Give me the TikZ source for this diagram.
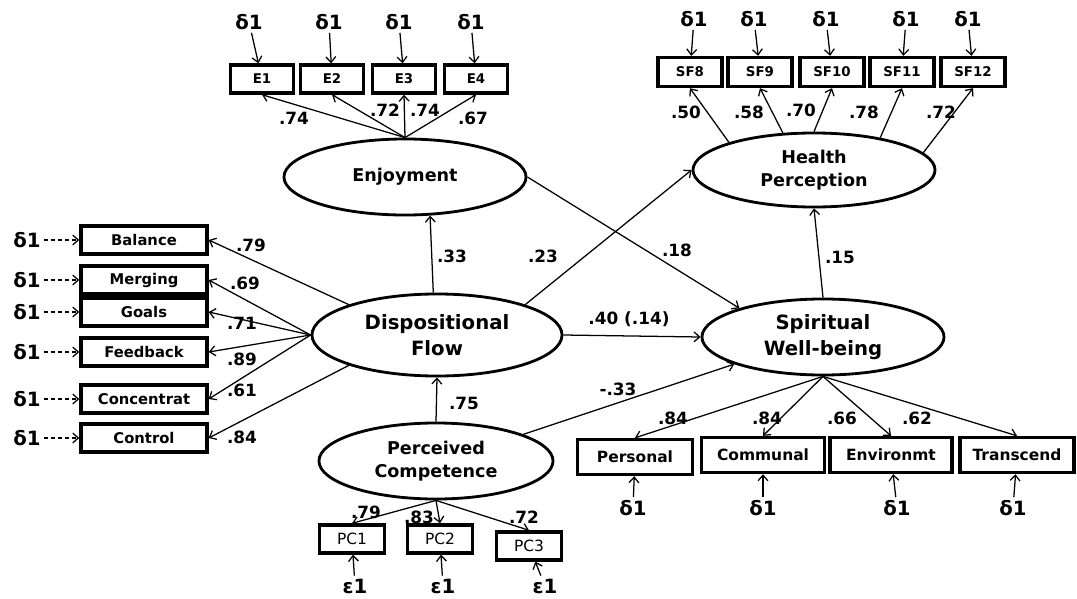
\documentclass[tikz,border=0pt]{standalone}
\usepackage{fontspec}
\setmainfont{DejaVu Sans}
\usetikzlibrary{arrows.meta, shapes.geometric}

\tikzset{
  latent/.style={ellipse, draw, line width=2pt, inner sep=0pt, align=center,
    font=\fontsize{12.5}{16}\selectfont\bfseries},
  bigtext/.style={font=\fontsize{14}{18}\selectfont\bfseries},
  indbox/.style={rectangle, draw, line width=2.4pt, inner sep=0pt,
    font=\fontsize{10.5}{12}\selectfont\bfseries},
  smallbox/.style={font=\fontsize{9.5}{11}\selectfont\bfseries},
  errlbl/.style={inner sep=2pt, font=\fontsize{14}{16}\selectfont\bfseries},
  coef/.style={inner sep=0pt, font=\fontsize{12}{14}\selectfont\bfseries},
  link/.style={-{Straight Barb[length=4pt, width=7pt]}, line width=0.9pt},
}

\begin{document}
\begin{tikzpicture}[x=0.025cm, y=-0.025cm]
  \useasboundingbox (0,0) rectangle (1077,598);

  % Latent factors
  \node[latent, minimum width=6.05cm, minimum height=1.9cm] (enj) at (405,177) {Enjoyment};
  \node[latent, minimum width=6.05cm, minimum height=1.85cm] (hp) at (814,170) {Health\\Perception};
  \node[latent, bigtext, minimum width=6.25cm, minimum height=2.05cm] (df) at (437,335) {Dispositional\\Flow};
  \node[latent, bigtext, minimum width=6.05cm, minimum height=1.9cm] (sw) at (823,337) {Spiritual\\Well-being};
  \node[latent, minimum width=5.85cm, minimum height=1.9cm] (pc) at (436,461) {Perceived\\Competence};

  % Enjoyment indicators
  \foreach \i/\xb/\xd/\cv/\xc/\yc in {
    1/262/249/.74/294/118,
    2/332/329/.72/385/110,
    3/404/399/.74/425/110,
    4/476/471/.67/473/118
  }{
    \node[indbox, smallbox, minimum width=1.575cm, minimum height=0.7cm] (e\i) at (\xb,79) {E\i};
    \node[errlbl] (de\i) at (\xd,22) {δ1};
    \draw[link] (de\i) -- (e\i);
    \draw[link] (enj.north) -- (e\i.south);
    \node[coef] (ce\i) at (\xc,\yc) {\cv};
  }

  % Health perception indicators
  \foreach \i/\xb/\xd/\ang/\cv/\xc/\yc in {
    8/690/694/162/.50/686/112,
    9/760/754/130/.58/749/112,
    10/832/826/90/.70/801/110,
    11/902/906/26/.78/864/112,
    12/973/968/9/.72/941/112
  }{
    \node[indbox, smallbox, minimum width=1.6cm, minimum height=0.725cm] (sf\i) at (\xb,72) {SF\i};
    \node[errlbl] (dsf\i) at (\xd,19) {δ1};
    \draw[link] (dsf\i) -- (sf\i);
    \draw[link] (hp.\ang) -- (sf\i.south);
    \node[coef] (csf\i) at (\xc,\yc) {\cv};
  }

  % Dispositional flow indicators
  \foreach \i/\lbl/\yb/\ang/\cv/\xc/\yc in {
    1/Balance/240/161/.79/251/245,
    2/Merging/280/180/.69/245/283,
    3/Goals/312/180/.71/242/323,
    4/Feedback/352/180/.89/242/359,
    5/Concentrat/399/180/.61/242/390,
    6/Control/438/199/.84/242/437
  }{
    \node[indbox, minimum width=3.15cm, minimum height=0.7cm] (f\i) at (144,\yb) {\lbl};
    \node[errlbl] (dl\i) at (27,\yb) {δ1};
    \draw[link, densely dashed] (dl\i) -- (f\i);
    \draw[link] (df.\ang) -- (f\i.east);
    \node[coef] (cf\i) at (\xc,\yc) {\cv};
  }

  % Spiritual well-being indicators
  \foreach \i/\lbl/\xb/\yb/\bw/\xd/\cv/\xc in {
    1/Personal/635/457/2.875cm/633/.84/673,
    2/Communal/763/455/3.075cm/763/.84/767,
    3/Environmt/891/455/3.05cm/897/.66/842,
    4/Transcend/1017/455/2.85cm/1013/.62/917
  }{
    \node[indbox, font=\fontsize{11}{13}\selectfont\bfseries,
      minimum width=\bw, minimum height=0.875cm] (s\i) at (\xb,\yb) {\lbl};
    \node[errlbl] (ds\i) at (\xd,508) {δ1};
    \draw[link] (ds\i) -- (s\i);
    \draw[link] (sw.south) -- (s\i.north);
    \node[coef] (cs\i) at (\xc,418) {\cv};
  }

  % Perceived competence indicators
  \foreach \i/\xb/\yb/\xd/\cv/\xc/\yc in {
    1/352/539/355/.79/366/512,
    2/440/539/443/.83/419/517,
    3/529/546/545/.72/524/517
  }{
    \node[indbox, font=\fontsize{11}{13}\selectfont,
      minimum width=1.625cm, minimum height=0.7cm] (p\i) at (\xb,\yb) {PC\i};
    \node[errlbl] (ep\i) at (\xd,586) {ε1};
    \draw[link] (ep\i) -- (p\i);
    \draw[link] (pc.south) -- (p\i.north);
    \node[coef] (cp\i) at (\xc,\yc) {\cv};
  }

  % Structural paths
  \draw[link] (df.95) -- (enj.303);
  \draw[link] (df.19) -- (hp.west);
  \draw[link] (enj.east) -- (sw.161);
  \draw[link] (df.east) -- (sw.west);
  \draw[link] (sw.north) -- (hp.south);
  \draw[link] (pc.north) -- (df.south);
  \draw[link] (pc.17) -- (sw.197);

  % Path coefficients
  \node[coef] (c33) at (452,256) {.33};
  \node[coef] (c23) at (543,256) {.23};
  \node[coef] (c18) at (677,250) {.18};
  \node[coef] (c40) at (629,319) {.40 (.14)};
  \node[coef] (c15) at (840,257) {.15};
  \node[coef] (c75) at (464,403) {.75};
  \node[coef] (cm33) at (618,389) {-.33};
\end{tikzpicture}
\end{document}
